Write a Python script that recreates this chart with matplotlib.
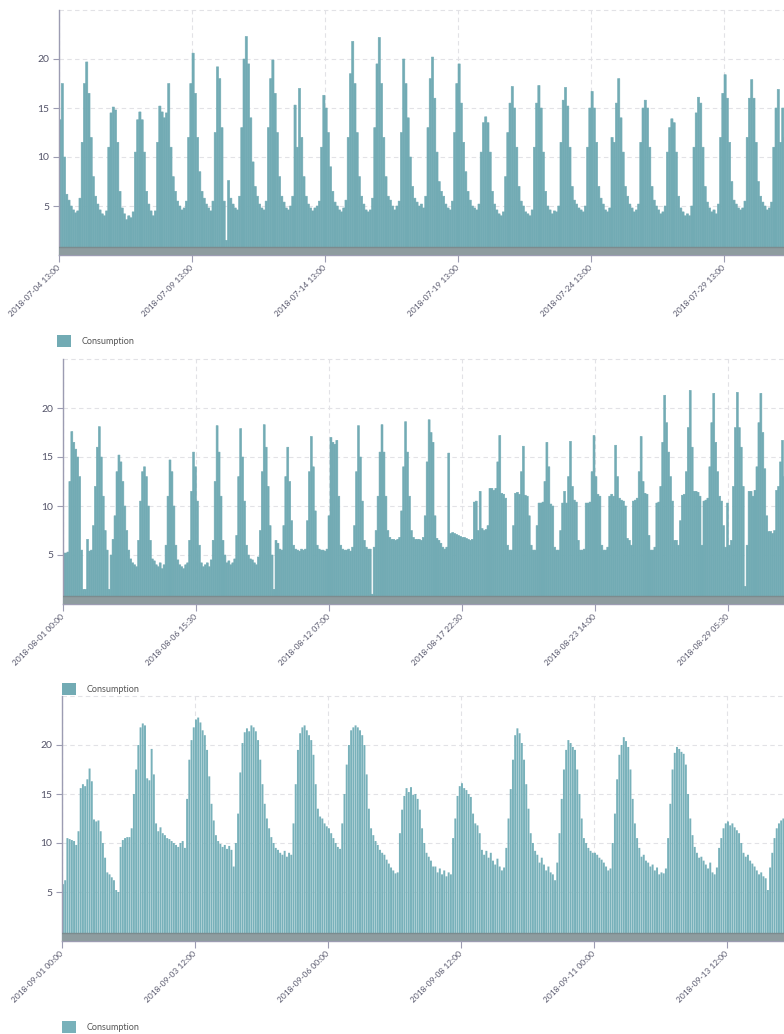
import matplotlib
matplotlib.use("Agg")
import matplotlib.pyplot as plt
import matplotlib.dates as mdates
from matplotlib.patches import Patch
import numpy as np
import pandas as pd

plt.rcParams['font.family'] = ['Lato', 'DejaVu Sans']

series_label = "Consumption"

# ---------------- July: 2-hour values, each row starts at 13:00 ----------------
jul_start = "2018-07-04 13:00"
jul_step_hours = 2
jul_days = [
    [13.8, 17.5, 10.0, 6.2, 5.6, 5.0, 4.6, 4.3, 4.5, 5.8, 11.5, 17.5],
    [19.7, 16.5, 12.0, 8.0, 6.0, 5.2, 4.6, 4.2, 4.0, 4.5, 11.0, 14.5],
    [15.1, 14.8, 11.5, 6.5, 4.8, 4.2, 3.6, 4.0, 3.8, 4.4, 10.5, 13.8],
    [14.6, 13.8, 10.5, 6.5, 5.2, 4.5, 4.0, 4.5, 11.5, 15.2, 14.6, 14.0],
    [14.5, 17.5, 11.0, 8.0, 6.5, 5.5, 5.0, 4.6, 4.8, 5.5, 12.0, 17.5],
    [20.6, 16.5, 12.0, 8.5, 6.5, 5.8, 5.2, 4.8, 4.5, 5.5, 12.5, 19.2],
    [18.0, 13.0, 5.5, 1.5, 7.6, 5.8, 5.2, 4.8, 4.6, 6.0, 13.0, 20.0],
    [22.3, 19.5, 14.0, 9.5, 7.0, 6.0, 5.2, 4.8, 4.6, 5.5, 13.0, 18.0],
    [19.9, 16.5, 12.5, 8.0, 6.0, 5.4, 4.8, 4.6, 5.0, 6.0, 15.3, 11.0],
    [17.0, 12.0, 8.0, 6.0, 5.2, 4.8, 4.5, 4.8, 5.0, 5.5, 11.0, 16.3],
    [15.0, 12.5, 9.0, 6.5, 5.4, 5.0, 4.6, 4.4, 4.8, 5.6, 12.0, 18.5],
    [21.8, 17.5, 12.5, 8.0, 6.0, 5.2, 4.6, 4.4, 4.6, 5.8, 13.0, 19.5],
    [22.2, 17.5, 12.0, 8.0, 6.0, 5.6, 5.0, 4.6, 5.0, 5.5, 12.5, 20.0],
    [17.5, 14.0, 10.0, 7.0, 5.8, 5.4, 5.0, 5.2, 4.8, 6.0, 13.0, 18.0],
    [20.2, 16.0, 10.5, 7.5, 6.5, 6.0, 5.2, 4.8, 4.6, 5.5, 12.5, 17.5],
    [19.5, 15.5, 11.5, 8.5, 6.5, 5.6, 5.0, 4.8, 4.6, 5.2, 10.5, 13.5],
    [14.1, 13.5, 10.5, 6.5, 5.2, 4.6, 4.2, 4.0, 4.4, 8.0, 12.5, 15.5],
    [17.2, 15.0, 11.0, 7.0, 5.5, 5.0, 4.4, 4.2, 4.0, 4.6, 11.0, 15.5],
    [17.3, 15.0, 10.5, 6.5, 5.0, 4.6, 4.2, 4.5, 4.4, 5.0, 11.5, 15.8],
    [17.1, 15.2, 11.0, 7.0, 5.6, 5.2, 4.8, 4.6, 4.4, 5.0, 11.0, 15.0],
    [16.7, 15.0, 11.5, 7.0, 5.8, 5.2, 4.6, 4.4, 4.8, 12.0, 11.5, 15.5],
    [18.0, 14.0, 10.5, 7.0, 6.0, 5.2, 4.8, 4.4, 4.6, 5.2, 11.5, 15.0],
    [15.8, 15.0, 11.0, 7.0, 5.6, 5.0, 4.6, 4.2, 4.4, 5.0, 10.5, 13.0],
    [13.9, 13.5, 10.5, 6.0, 4.8, 4.4, 4.0, 4.2, 4.0, 5.0, 11.0, 14.5],
    [16.1, 15.5, 11.0, 7.0, 5.4, 4.8, 4.4, 4.6, 4.2, 5.2, 12.0, 16.5],
    [18.4, 16.0, 11.5, 7.5, 5.6, 5.2, 4.8, 4.6, 4.8, 5.5, 12.0, 16.0],
    [17.9, 16.0, 11.5, 7.5, 6.0, 5.4, 5.0, 4.6, 4.8, 5.4, 11.0, 15.0],
    [16.9, 11.5, 15.0, 12.0, 7.0, 5.5],
]

# ---------------- August: 2-hour values, each row starts at 00:00 ----------------
aug_start = "2018-08-01 00:00"
aug_step_hours = 2
aug_days = [
    [5.2, 5.2, 5.3, 12.5, 17.6, 16.5, 15.8, 15.0, 13.0, 5.5, 1.5, 1.5],
    [6.6, 5.4, 5.5, 8.0, 12.0, 16.0, 18.1, 15.0, 11.0, 7.5, 5.5, 1.5],
    [5.0, 6.6, 9.0, 13.5, 15.2, 14.5, 12.5, 10.0, 7.5, 5.5, 4.6, 4.2],
    [4.0, 3.8, 6.5, 10.5, 13.5, 14.0, 13.0, 10.0, 6.5, 4.6, 4.4, 4.0],
    [3.8, 4.2, 3.6, 4.0, 6.0, 11.0, 14.7, 13.5, 10.0, 6.0, 4.5, 4.0],
    [3.8, 3.6, 4.0, 4.2, 6.5, 11.5, 15.5, 14.0, 10.5, 6.0, 4.2, 3.8],
    [4.0, 4.2, 3.8, 4.5, 6.5, 12.5, 18.2, 15.5, 11.0, 6.5, 5.0, 4.2],
    [4.4, 4.0, 4.2, 4.6, 7.0, 13.0, 17.9, 15.0, 10.5, 6.0, 5.0, 4.6],
    [4.5, 4.2, 4.0, 4.8, 7.5, 13.5, 18.3, 16.0, 12.0, 8.0, 5.0, 1.5],
    [6.5, 6.2, 5.6, 5.5, 8.0, 13.0, 16.0, 12.5, 8.5, 6.0, 5.6, 5.5],
    [5.4, 5.6, 5.5, 5.6, 8.5, 13.5, 17.1, 14.0, 9.5, 6.0, 5.6, 5.5],
    [5.5, 5.4, 5.6, 9.0, 17.0, 16.5, 16.3, 16.7, 11.0, 6.0, 5.6, 5.5],
    [5.5, 5.6, 5.4, 5.8, 8.0, 13.5, 18.2, 15.0, 10.5, 6.5, 5.8, 5.6],
    [5.6, 1.0, 5.8, 7.5, 11.0, 15.5, 18.3, 15.5, 11.0, 7.5, 6.8, 6.6],
    [6.6, 6.5, 6.6, 6.8, 9.5, 14.0, 18.6, 15.5, 11.0, 7.5, 6.8, 6.6],
    [6.6, 6.6, 6.5, 6.8, 9.0, 14.5, 18.8, 17.5, 16.5, 9.0, 6.7, 6.5],
    [6.2, 5.8, 5.6, 5.8, 15.4, 7.2, 7.3, 7.2, 7.1, 7.0, 6.9, 6.8],
    [6.8, 6.7, 6.6, 6.5, 6.6, 10.4, 10.5, 7.5, 11.5, 7.7, 7.5, 7.6],
    [8.0, 11.8, 11.8, 11.6, 11.8, 14.5, 17.2, 11.3, 11.2, 10.8, 6.0, 5.5],
    [5.5, 8.0, 11.3, 11.4, 11.2, 13.5, 16.1, 11.1, 11.0, 9.0, 6.0, 5.5],
    [5.5, 8.0, 10.3, 10.3, 10.4, 12.5, 16.5, 14.0, 10.2, 10.0, 5.8, 5.5],
    [5.5, 7.5, 10.3, 11.5, 10.3, 13.0, 16.6, 12.0, 10.6, 10.4, 6.5, 5.5],
    [5.5, 5.6, 10.3, 10.3, 10.4, 13.5, 17.2, 13.0, 11.2, 11.0, 6.0, 5.5],
    [5.5, 5.8, 11.0, 11.2, 11.0, 16.2, 13.0, 10.8, 10.6, 10.5, 10.0, 6.7],
    [6.5, 6.0, 10.5, 10.6, 10.8, 13.5, 17.1, 12.5, 11.3, 11.2, 7.0, 5.5],
    [5.5, 5.8, 10.3, 10.4, 12.0, 16.5, 21.3, 18.5, 15.5, 13.0, 10.5, 6.5],
    [6.5, 6.0, 8.5, 11.1, 11.2, 13.5, 18.0, 21.8, 16.0, 11.5, 11.5, 11.4],
    [11.0, 6.0, 10.5, 10.6, 10.8, 14.0, 18.5, 21.5, 16.5, 13.5, 11.0, 10.5],
    [8.0, 5.8, 10.3, 6.0, 6.5, 12.0, 18.0, 21.6, 18.0, 16.0, 12.0, 1.8],
    [6.0, 11.5, 11.5, 11.0, 11.6, 14.0, 18.5, 21.5, 17.5, 13.8, 9.0, 7.4],
    [7.4, 7.2, 7.5, 11.6, 12.0, 14.5, 16.7, 13.0],
]

# ---------------- September: hourly values, each row starts at 00:00 ----------------
sep_start = "2018-09-01 00:00"
sep_step_hours = 1
sep_days = [
    [5.8, 6.2, 10.5, 10.4, 10.3, 10.2, 9.8, 11.2, 15.6, 16.0, 15.8, 16.5, 17.6, 16.3, 12.4, 12.2, 12.3, 11.2, 10.0, 8.5, 7.0, 6.8, 6.5, 6.2],
    [5.2, 5.0, 9.6, 10.3, 10.5, 10.6, 10.6, 11.5, 15.0, 17.5, 20.0, 21.8, 22.2, 22.0, 16.6, 16.4, 19.6, 17.0, 12.0, 11.2, 11.6, 11.0, 10.8, 10.5],
    [10.4, 10.2, 10.0, 9.8, 9.6, 10.0, 10.2, 9.5, 14.5, 18.5, 20.5, 21.8, 22.6, 22.8, 22.3, 21.5, 21.0, 19.5, 16.8, 14.0, 12.3, 10.8, 10.2, 9.9],
    [9.6, 9.8, 9.4, 9.7, 9.3, 7.6, 10.0, 13.0, 17.2, 20.2, 21.3, 21.7, 21.4, 22.0, 21.8, 21.4, 20.5, 18.5, 16.0, 14.0, 12.5, 11.5, 10.6, 10.0],
    [9.5, 9.3, 9.0, 8.8, 9.2, 8.6, 9.0, 8.8, 12.0, 16.0, 19.5, 21.2, 21.8, 22.0, 21.5, 21.0, 20.5, 19.0, 16.0, 13.5, 12.7, 12.5, 12.0, 11.7],
    [11.5, 11.0, 10.5, 10.0, 9.6, 9.4, 12.0, 15.0, 18.0, 20.0, 21.5, 21.8, 22.0, 21.8, 21.5, 21.0, 20.0, 17.0, 13.5, 11.5, 10.8, 10.2, 9.8, 9.3],
    [9.0, 8.8, 8.3, 7.9, 7.5, 7.2, 6.9, 7.0, 11.0, 13.4, 14.8, 15.6, 15.2, 15.7, 14.9, 15.0, 14.5, 13.4, 11.5, 10.0, 9.0, 8.6, 8.2, 7.6],
    [7.6, 7.0, 7.4, 6.8, 7.2, 6.6, 7.0, 6.8, 10.5, 12.5, 14.8, 15.8, 16.1, 15.6, 15.4, 15.0, 14.7, 13.0, 12.0, 11.8, 11.0, 9.3, 8.8, 9.2],
    [8.5, 9.0, 8.2, 7.8, 8.4, 7.6, 7.2, 7.5, 9.5, 12.5, 15.5, 18.5, 21.0, 21.7, 21.2, 20.2, 18.5, 16.0, 13.5, 11.0, 10.0, 9.2, 8.8, 8.0],
    [8.5, 7.8, 7.2, 7.6, 7.0, 6.8, 6.2, 8.0, 11.0, 14.5, 17.5, 19.5, 20.5, 20.2, 19.8, 19.5, 17.5, 15.0, 12.5, 10.5, 10.0, 9.5, 9.2, 9.0],
    [9.0, 8.8, 8.5, 8.3, 8.0, 7.6, 7.2, 7.4, 10.0, 13.0, 16.5, 19.0, 20.0, 20.8, 20.4, 19.8, 17.5, 14.5, 12.0, 10.5, 9.5, 8.6, 8.8, 8.2],
    [8.0, 7.6, 7.8, 7.2, 7.5, 6.8, 7.0, 6.9, 7.4, 10.5, 14.0, 17.5, 19.2, 19.8, 19.6, 19.3, 19.1, 18.0, 15.0, 12.5, 10.8, 9.6, 9.0, 8.5],
    [8.6, 8.2, 7.8, 7.4, 8.0, 7.0, 6.8, 7.5, 9.5, 10.5, 11.5, 12.0, 12.2, 11.8, 12.0, 11.6, 11.3, 11.0, 10.0, 9.0, 8.6, 8.8, 8.2, 7.9],
    [7.6, 7.2, 6.8, 7.0, 6.6, 6.4, 5.2, 7.5, 9.0, 10.5, 11.5, 12.0, 12.3, 12.5, 12.0, 11.5],
]

jul_ticks = ["2018-07-04 13:00", "2018-07-09 13:00", "2018-07-14 13:00",
             "2018-07-19 13:00", "2018-07-24 13:00", "2018-07-29 13:00"]
aug_ticks = ["2018-08-01 00:00", "2018-08-06 15:30", "2018-08-12 07:00",
             "2018-08-17 22:30", "2018-08-23 14:00", "2018-08-29 05:30"]
sep_ticks = ["2018-09-01 00:00", "2018-09-03 12:00", "2018-09-06 00:00",
             "2018-09-08 12:00", "2018-09-11 00:00", "2018-09-13 12:00"]
y_ticks = [5, 10, 15, 20]

# ---------------- style ----------------
TEAL = '#72abb4'
TEAL3 = '#78b1ba'
BAND = '#8e9c9f'
BAND_LINE = '#7c8b8e'
AXIS_C = '#9c9cb2'
GRID_C = '#e2e2e6'
LABEL_C = '#55556a'

W, H = 784, 1034
fig = plt.figure(figsize=(W / 100, H / 100), dpi=100)

AX_W = 730      # px width of each plot area (extends past the right edge)
TICK_PX = 133   # px between x ticks

panels = [
    dict(rows=jul_days, start=jul_start, step=jul_step_hours, ticks=jul_ticks,
         left=59, top=10, bottom=255, bar_w=1.0, edge=0.4, color=TEAL, legend=(57, 341)),
    dict(rows=aug_days, start=aug_start, step=aug_step_hours, ticks=aug_ticks,
         left=63, top=359, bottom=604, bar_w=1.0, edge=0.4, color=TEAL, legend=(62, 689)),
    dict(rows=sep_days, start=sep_start, step=sep_step_hours, ticks=sep_ticks,
         left=62, top=696, bottom=941, bar_w=0.88, edge=0.0, color=TEAL3, legend=(62, 1027)),
]

for p in panels:
    ax = fig.add_axes([p['left'] / W, 1 - p['bottom'] / H, AX_W / W,
                       (p['bottom'] - p['top']) / H])
    vals = np.concatenate([np.asarray(r, dtype=float) for r in p['rows']])
    t0 = pd.Timestamp(p['start'])
    times = t0 + pd.to_timedelta(np.arange(len(vals)) * p['step'], unit='h')
    x = mdates.date2num(times.to_pydatetime())
    bars = ax.bar(x, vals, width=p['step'] / 24 * p['bar_w'], align='edge',
                  color=p['color'], edgecolor=p['color'], linewidth=p['edge'], zorder=2)
    for b in bars:
        b.set_snap(False)

    tick_x = mdates.date2num(pd.to_datetime(p['ticks']).to_pydatetime())
    interval = tick_x[1] - tick_x[0]
    ax.set_xlim(tick_x[0], tick_x[0] + interval * AX_W / TICK_PX)
    ax.set_ylim(0, 25)

    # grey base band
    ax.axhspan(0, 0.8, color=BAND, lw=0, zorder=3)
    ax.axhline(0.8, color=BAND_LINE, lw=1.0, zorder=3)

    ax.set_yticks(y_ticks)
    ax.set_xticks(tick_x)
    ax.set_xticklabels(p['ticks'], rotation=45, ha='right', va='center',
                       rotation_mode='anchor')
    ax.grid(True, color=GRID_C, linestyle=(0, (4, 3)), linewidth=0.8)
    ax.set_axisbelow(True)
    ax.axhline(25, color=GRID_C, linestyle=(0, (4, 3)), linewidth=0.8,
               clip_on=False, zorder=0)

    for s in ('top', 'right'):
        ax.spines[s].set_visible(False)
    for s in ('left', 'bottom'):
        ax.spines[s].set_color(AXIS_C)
        ax.spines[s].set_linewidth(1.0)
    ax.tick_params(axis='y', length=4, width=0.8, color=AXIS_C,
                   labelsize=7.5, labelcolor=LABEL_C, pad=3)
    ax.tick_params(axis='x', length=5, width=0.8, color=AXIS_C,
                   labelsize=6, labelcolor=LABEL_C, pad=3)

    lx, ly = p['legend']
    ax.legend(handles=[Patch(facecolor=p['color'], edgecolor='none', label=series_label)],
              loc='center left', bbox_to_anchor=(lx / W, 1 - ly / H),
              bbox_transform=fig.transFigure, frameon=False, fontsize=6.5,
              handlelength=1.6, handleheight=1.6, handletextpad=1.1,
              borderpad=0, borderaxespad=0, labelcolor='#555555')

fig.savefig("out.png", dpi=100)
